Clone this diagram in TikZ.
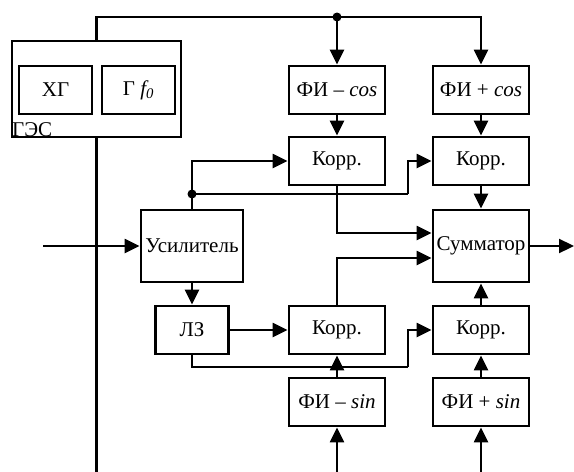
\documentclass[tikz,border=0pt]{standalone}
\usepackage{fontspec}
\setmainfont{Liberation Serif}
\usetikzlibrary{arrows.meta,calc}
\begin{document}
\begin{tikzpicture}[x=1pt,y=-1pt,
  box/.style={draw,line width=2.8pt,inner sep=0pt,font=\fontsize{21}{25}\selectfont},
  blk/.style={box,minimum width=96pt,minimum height=48pt},
  sblk/.style={box,minimum width=73pt,minimum height=48pt},
  wire/.style={line width=2.3pt},
  arr/.style={wire,-{Triangle[length=15pt,width=14pt]}},
  dot/.style={circle,fill,inner sep=0pt,minimum size=9pt}]
\useasboundingbox (0,0) rectangle (574,472);
\clip (0,0) rectangle (574,472);

% generator unit
\node[box,minimum width=169pt,minimum height=96pt] (ges) at (96.5,89) {};
\node[sblk] (xg) at (55.5,90) {ХГ};
\node[sblk] (gf) at (138.5,90) {Г \textit{f\textsubscript{0}}};
\node[anchor=base west,inner sep=0pt,font=\fontsize{21}{25}\selectfont] (geslbl) at (12,136) {ГЭС};

% phase shifters and correlators
\node[blk] (ficm) at (337,90) {ФИ – \textit{cos}};
\node[blk] (ficp) at (481,90) {ФИ + \textit{cos}};
\node[blk] (k1) at (337,161) {Корр.};
\node[blk] (k2) at (481,161) {Корр.};
\node[box,minimum width=102pt,minimum height=72pt] (usil) at (192,246) {Усилитель};
\node[box,minimum width=96pt,minimum height=72pt] (sum) at (481,246) {Сумматор};
\node[sblk] (lz) at (192,330) {ЛЗ};
\node[blk] (k3) at (337,330) {Корр.};
\node[blk] (k4) at (481,330) {Корр.};
\node[blk] (fism) at (337,402) {ФИ – \textit{sin}};
\node[blk] (fisp) at (481,402) {ФИ + \textit{sin}};

% junctions and free ends
\node[dot] (dT) at (337,17) {};
\node[dot] (dM) at (192,194) {};
\node[dot] (dB) at (337,476) {};
\coordinate (in) at (43,246);
\coordinate (out) at (574,246);
\coordinate (b1) at (408,194);
\coordinate (b2) at (408,367);
\coordinate (gbot) at (96.5,480);

% reference signal bus
\draw[wire] (ges.north) |- (dT.center);
\draw[arr] (dT.center) -- (ficm.north);
\draw[arr] (dT.center) -| (ficp.north);
\draw[wire] (ges.south) -- (gbot);
\draw[arr] (dB.center) -- (fism.south);
\draw[arr] (dB.center) -| (fisp.south);

% signal path
\draw[arr] (in) -- (usil.west);
\draw[wire] (dM.center) -- (usil.north);
\draw[arr] (dM.center) |- (k1.west);
\draw[wire] (dM.center) -- (b1);
\draw[arr] (b1) |- (k2.west);
\draw[arr] (usil.south) -- (lz.north);
\draw[arr] (lz.east) -- (k3.west);
\draw[wire] (lz.south) |- (b2);
\draw[arr] (b2) |- (k4.west);

\draw[arr] (ficm.south) -- (k1.north);
\draw[arr] (ficp.south) -- (k2.north);
\draw[arr] (fism.north) -- (k3.south);
\draw[arr] (fisp.north) -- (k4.south);

% correlator outputs to the summator
\draw[arr] (k1.south) |- ($(sum.west)+(0,-13)$);
\draw[arr] (k3.north) |- ($(sum.west)+(0,12)$);
\draw[arr] (k2.south) -- (sum.north);
\draw[arr] (k4.north) -- (sum.south);
\draw[arr] (sum.east) -- (out);
\end{tikzpicture}
\end{document}
